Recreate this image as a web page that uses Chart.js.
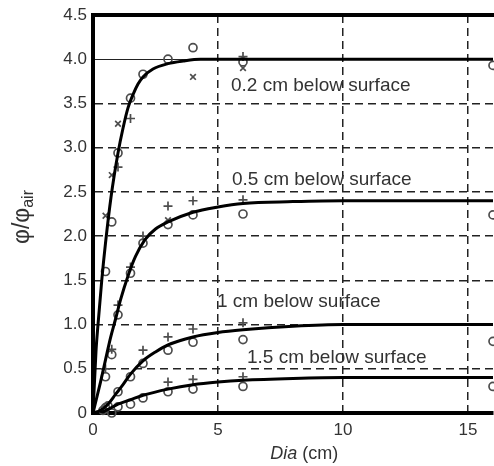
<!DOCTYPE html>
<html>
<head>
<meta charset="utf-8">
<script src="https://cdn.jsdelivr.net/npm/chart.js@4"></script>
<style>
  html, body { margin: 0; padding: 0; background: #fff; }
  #wrap { width: 494px; height: 466px; }
</style>
</head>
<body>
<div id="wrap"><canvas id="myChart" width="494" height="466"></canvas></div>
<script>
// fitted curves, one per depth below the surface
const fit02X = [0, 0.12, 0.2, 0.35, 0.5, 0.72, 1.0, 1.2, 1.4, 1.6, 1.8, 2.0, 2.4, 3.0, 3.6, 4.3, 6, 16];
const fit02Y = [0, 0.7, 1.0, 1.5, 1.92, 2.44, 2.94, 3.22, 3.45, 3.6, 3.72, 3.8, 3.89, 3.95, 3.98, 4.0, 4.0, 4.0];
const fit05X = [0, 0.3, 0.5, 0.7, 0.9, 1.1, 1.4, 1.7, 2.08, 2.5, 3, 4, 5, 6, 8, 10, 16];
const fit05Y = [0, 0.35, 0.6, 0.85, 1.06, 1.28, 1.55, 1.77, 1.96, 2.08, 2.16, 2.27, 2.33, 2.37, 2.39, 2.4, 2.4];
const fit10X = [0, 0.3, 0.6, 0.9, 1.2, 1.5, 2, 2.5, 3, 4, 5, 6, 8, 10, 16];
const fit10Y = [0, 0.03, 0.1, 0.21, 0.32, 0.44, 0.59, 0.69, 0.77, 0.86, 0.91, 0.94, 0.98, 1.0, 1.0];
const fit15X = [0.3, 0.6, 1, 1.5, 2, 3, 4, 5, 6, 8, 10, 16];
const fit15Y = [0, 0.04, 0.1, 0.15, 0.2, 0.27, 0.32, 0.35, 0.37, 0.39, 0.4, 0.4];

// measured points, grouped by marker
const circleX = [0.75, 1, 1.5, 2, 3, 4, 6, 16,
                 0.5, 1, 1.5, 2, 3, 4, 6, 16,
                 0.5, 0.75, 1, 1.5, 2, 3, 4, 6, 16,
                 0.4, 0.5, 0.6, 0.75, 1, 1.5, 2, 3, 4, 6, 16];
const circleY = [2.16, 2.94, 3.56, 3.83, 4.0, 4.13, 3.97, 3.93,
                 1.6, 1.11, 1.58, 1.92, 2.13, 2.24, 2.25, 2.24,
                 0.41, 0.66, 0.24, 0.41, 0.56, 0.71, 0.8, 0.83, 0.81,
                 0.03, 0.06, 0.08, 0.0, 0.07, 0.1, 0.17, 0.24, 0.27, 0.3, 0.3];
const plusX = [1, 1.5, 6,
               1, 1.5, 2, 3, 4, 6,
               0.5, 0.75, 2, 3, 4, 6,
               3, 4, 6];
const plusY = [2.78, 3.33, 4.03,
               1.22, 1.65, 2.0, 2.34, 2.4, 2.41,
               0.5, 0.72, 0.71, 0.86, 0.95, 1.02,
               0.35, 0.38, 0.41];
const crossX = [0.5, 0.75, 1, 4, 6, 3];
const crossY = [2.23, 2.69, 3.27, 3.8, 3.9, 2.18];

// axes
const xTicks = [0, 5, 10, 15];
const xTickLabels = ['0', '5', '10', '15'];
const yTicks = [0, 0.5, 1, 1.5, 2, 2.5, 3, 3.5, 4, 4.5];
const yTickLabels = ['0', '0.5', '1.0', '1.5', '2.0', '2.5', '3.0', '3.5', '4.0', '4.5'];

const depthLabels = ['0.2 cm below surface', '0.5 cm below surface', '1 cm below surface', '1.5 cm below surface'];
const depthLabelAt = [[5.52, 3.64], [5.56, 2.58], [4.96, 1.2], [6.16, 0.565]];

const pts = (xs, ys) => xs.map((x, i) => ({ x: x, y: ys[i] }));
const FONT = '"Liberation Sans", Arial, sans-serif';
const TEXT = '#333';

const fitLine = (xs, ys) => ({
  data: pts(xs, ys),
  showLine: true,
  borderColor: '#000',
  borderWidth: 3,
  pointRadius: 0,
  cubicInterpolationMode: 'monotone',
  fill: false
});

const marks = (xs, ys, style, r) => ({
  data: pts(xs, ys),
  pointStyle: style,
  pointRadius: r,
  pointBorderWidth: 1.7,
  pointBorderColor: '#4d4d4d',
  pointBackgroundColor: 'rgba(0,0,0,0)',
  clip: false
});

const decor = {
  id: 'decor',
  afterDatasetsDraw(chart) {
    const ctx = chart.ctx;
    const xs = chart.scales.x, ys = chart.scales.y;
    ctx.save();
    ctx.fillStyle = TEXT;
    ctx.font = '19px ' + FONT;
    ctx.textBaseline = 'alphabetic';
    ctx.textAlign = 'left';
    depthLabels.forEach((t, i) => {
      ctx.fillText(t, xs.getPixelForValue(depthLabelAt[i][0]), ys.getPixelForValue(depthLabelAt[i][1]));
    });
    ctx.restore();
  },
  afterDraw(chart) {
    const ctx = chart.ctx;
    const a = chart.chartArea;
    ctx.save();
    // heavy top frame
    ctx.fillStyle = '#000';
    ctx.fillRect(a.left - 2, a.top - 2, chart.width - a.left + 2, 4);

    // x title: italic "Dia" then " (cm)"
    ctx.fillStyle = TEXT;
    ctx.textBaseline = 'alphabetic';
    ctx.font = 'italic 18px ' + FONT;
    const w1 = ctx.measureText('Dia').width;
    ctx.font = '18px ' + FONT;
    const w2 = ctx.measureText(' (cm)').width;
    const cx = chart.scales.x.getPixelForValue(8.45);
    const x0 = cx - (w1 + w2) / 2;
    ctx.font = 'italic 18px ' + FONT;
    ctx.fillText('Dia', x0, 459);
    ctx.font = '18px ' + FONT;
    ctx.fillText(' (cm)', x0 + w1, 459);

    // y title: phi / phi with "air" subscript, rotated
    ctx.translate(29, (a.top + a.bottom) / 2 + 3);
    ctx.rotate(-Math.PI / 2);
    ctx.font = '23px ' + FONT;
    const m1 = ctx.measureText('\u03C6/\u03C6').width;
    ctx.font = '16px ' + FONT;
    const m2 = ctx.measureText('air').width;
    const s = -(m1 + m2) / 2;
    ctx.font = '23px ' + FONT;
    ctx.fillText('\u03C6/\u03C6', s, 0);
    ctx.font = '16px ' + FONT;
    ctx.fillText('air', s + m1, 4);
    ctx.restore();
  }
};

const ctx = document.querySelector('#myChart');

const myChart = new Chart(ctx, {
  type: 'scatter',
  data: {
    datasets: [
      fitLine(fit02X, fit02Y),
      fitLine(fit05X, fit05Y),
      fitLine(fit10X, fit10Y),
      fitLine(fit15X, fit15Y),
      marks(circleX, circleY, 'circle', 4),
      marks(plusX, plusY, 'cross', 4.5),
      marks(crossX, crossY, 'crossRot', 4)
    ]
  },
  options: {
    responsive: false,
    animation: false,
    layout: { autoPadding: false, padding: { top: 15, right: 1, left: 0, bottom: 0 } },
    plugins: { legend: { display: false }, tooltip: { enabled: false } },
    scales: {
      x: {
        type: 'linear',
        min: 0,
        max: 16,
        afterBuildTicks: s => { s.ticks = xTicks.map(v => ({ value: v })); },
        afterFit: s => { s.height = 53; s.paddingLeft = 0; s.paddingRight = 0; },
        ticks: {
          padding: 7,
          color: TEXT,
          font: { family: FONT, size: 17 },
          maxRotation: 0,
          callback: (v, i) => xTickLabels[i]
        },
        grid: {
          drawTicks: false,
          color: c => (c.tick && c.tick.value === 0) ? 'rgba(0,0,0,0)' : '#222',
          lineWidth: 1.5
        },
        border: {
          display: true,
          color: '#000',
          width: 4,
          dash: c => c.tick ? [8, 5] : []
        }
      },
      y: {
        type: 'linear',
        min: 0,
        max: 4.5,
        afterBuildTicks: s => { s.ticks = yTicks.map(v => ({ value: v })); },
        afterFit: s => { s.width = 93; s.paddingTop = 0; s.paddingBottom = 0; },
        ticks: {
          padding: 6,
          color: TEXT,
          font: { family: FONT, size: 17 },
          callback: (v, i) => yTickLabels[i]
        },
        grid: {
          drawTicks: false,
          color: c => {
            const v = c.tick ? c.tick.value : null;
            return (v === 0 || v === 4.5) ? 'rgba(0,0,0,0)' : '#222';
          },
          lineWidth: c => (c.tick && c.tick.value === 4) ? 1 : 1.5
        },
        border: {
          display: true,
          color: '#000',
          width: 4,
          dash: c => (c.tick && c.tick.value !== 4) ? [8, 5] : []
        }
      }
    }
  },
  plugins: [decor]
});
</script>
</body>
</html>
